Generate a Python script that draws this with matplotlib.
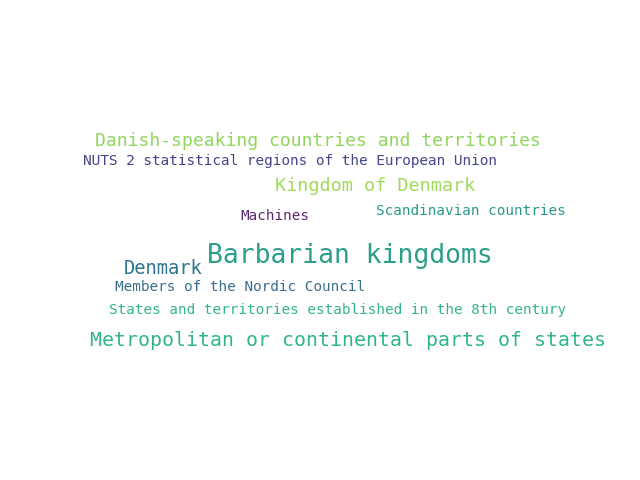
import matplotlib
matplotlib.use("Agg")
import matplotlib.pyplot as plt

# word cloud terms, font sizes (pt), colours, and layout anchors (px from top-left)
words = [
    "Danish-speaking countries and territories",
    "NUTS 2 statistical regions of the European Union",
    "Kingdom of Denmark",
    "Machines",
    "Scandinavian countries",
    "Barbarian kingdoms",
    "Denmark",
    "Members of the Nordic Council",
    "States and territories established in the 8th century",
    "Metropolitan or continental parts of states",
]
sizes = [13.0, 10.4, 13.3, 10.3, 10.4, 19.0, 13.5, 10.4, 10.4, 14.3]
colors = ["#90d65c", "#46468a", "#a0da5a", "#5a2a6e", "#2a9a8a",
          "#2a9f8a", "#2f7590", "#3c6e8e", "#35b58a", "#30b48a"]
x_px = [95, 83, 275, 240, 376, 207, 124, 115, 109, 90]
y_px = [141, 161, 186, 216, 211, 256, 269, 287, 310, 340]

W, H = 640, 480
fig = plt.figure(figsize=(W / 100, H / 100), dpi=100)
fig.patch.set_facecolor("white")
for w, s, c, x, y in zip(words, sizes, colors, x_px, y_px):
    fig.text(x / W, 1 - y / H, w, fontsize=s, color=c, family="DejaVu Sans Mono",
             ha="left", va="center")
fig.savefig("out.png", dpi=100, facecolor="white")
